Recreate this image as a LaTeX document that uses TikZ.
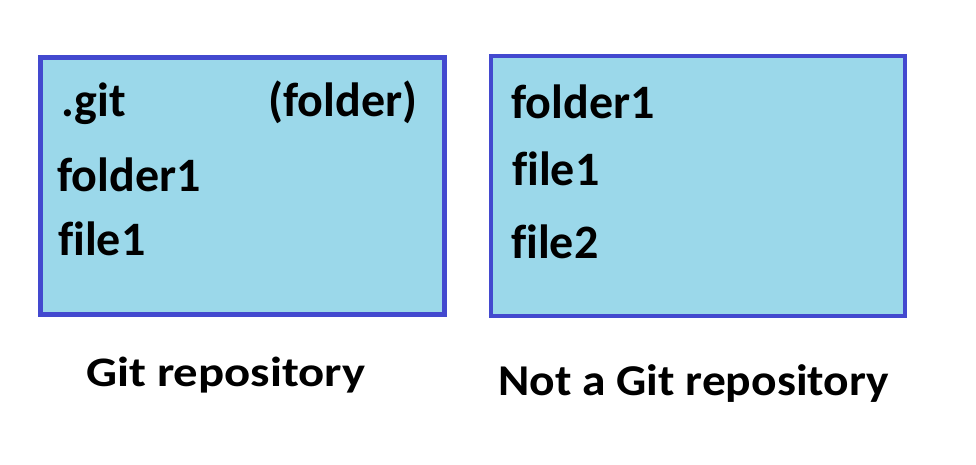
\documentclass[tikz,border=0pt]{standalone}
\usepackage{fontspec}
\setmainfont{Carlito}[Ligatures=CommonOff]
\definecolor{boxborder}{RGB}{67,73,207}
\definecolor{boxfill}{RGB}{155,216,234}
\tikzset{
  repobox/.style={draw=boxborder, fill=boxfill, line width=4.5pt},
  itemtext/.style={anchor=base west, inner sep=0pt, font=\bfseries\fontsize{48}{52}\selectfont},
  captiontext/.style={anchor=base west, inner sep=0pt, font=\bfseries\fontsize{42}{46}\selectfont}
}
\begin{document}
\begin{tikzpicture}[x=1pt,y=-1pt]
\useasboundingbox (0,0) rectangle (976,465);
\fill[white] (0,0) rectangle (976,465);
% boxes
\draw[repobox] (40.5,57.5) rectangle (444.5,314.5);
\node[inner sep=0pt, minimum width=404pt, minimum height=257pt] (boxA) at (242.5,186) {};
\draw[repobox] (491,56) rectangle (905,316);
\node[inner sep=0pt, minimum width=414pt, minimum height=260pt] (boxB) at (698,186) {};
% left box contents
\node[itemtext] (gitdir) at (61,116.7) {.git};
\node[itemtext] (gitnote) at (268,116.7) {(folder)};
\node[itemtext] (afolder) at (57,191.7) {folder1};
\node[itemtext] (afile) at (58,255) {file1};
% right box contents
\node[itemtext] (bfolder) at (511,118.3) {folder1};
\node[itemtext] (bfile1) at (512,185.7) {file1};
\node[itemtext] (bfile2) at (511,258.3) {file2};
% captions
\node[captiontext, xscale=1.16] (capA) at (86,386) {Git repository};
\node[captiontext, xscale=1.08, font=\bfseries\fontsize{44}{48}\selectfont] (capB) at (498,395.7) {Not a Git repository};
\end{tikzpicture}
\end{document}
